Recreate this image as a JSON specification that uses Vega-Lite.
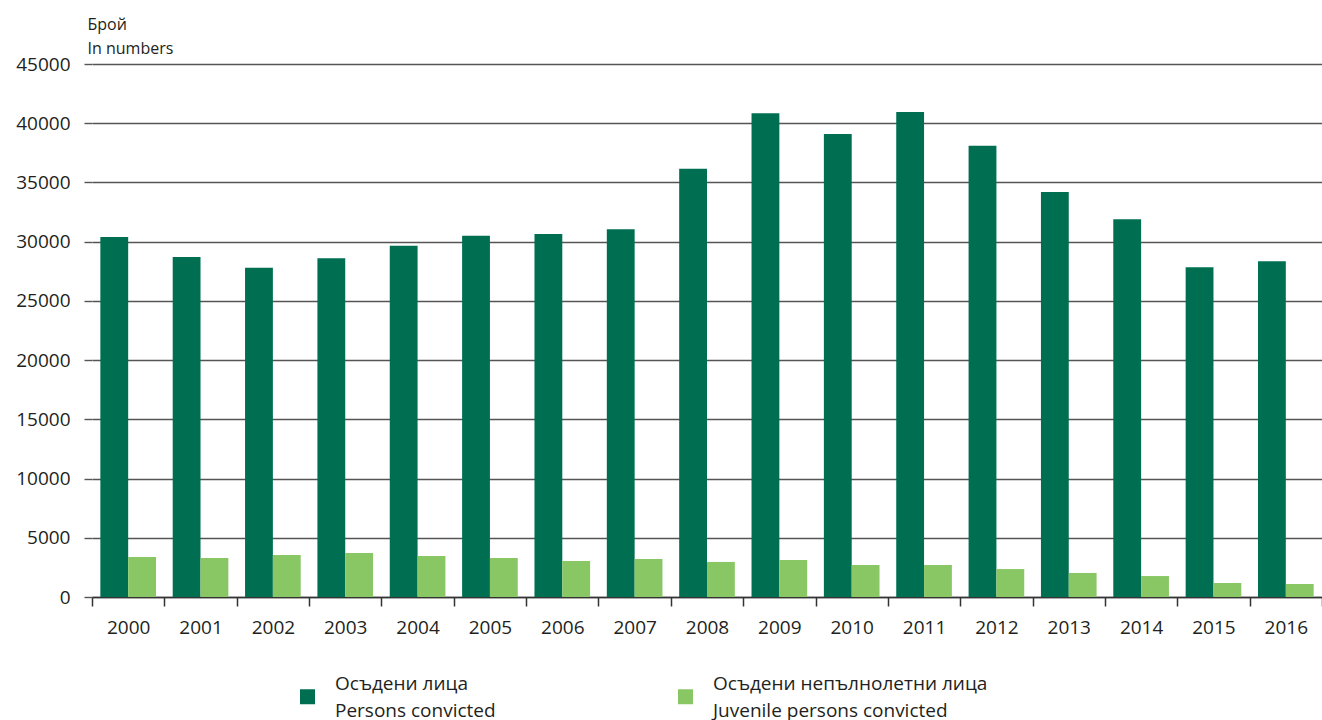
{
  "$schema": "https://vega.github.io/schema/vega-lite/v6.json",
  "width": 1230,
  "height": 533,
  "autosize": {"type": "none"},
  "padding": {"left": 92, "top": 64, "right": 0, "bottom": 123},
  "background": "white",
  "config": {
    "font": "Open Sans",
    "view": {"stroke": null}
  },
  "data": {
    "values": [
      {"year": "2000", "series": "Осъдени лица|Persons convicted", "value": 30400},
      {"year": "2001", "series": "Осъдени лица|Persons convicted", "value": 28700},
      {"year": "2002", "series": "Осъдени лица|Persons convicted", "value": 27800},
      {"year": "2003", "series": "Осъдени лица|Persons convicted", "value": 28600},
      {"year": "2004", "series": "Осъдени лица|Persons convicted", "value": 29650},
      {"year": "2005", "series": "Осъдени лица|Persons convicted", "value": 30500},
      {"year": "2006", "series": "Осъдени лица|Persons convicted", "value": 30650},
      {"year": "2007", "series": "Осъдени лица|Persons convicted", "value": 31050},
      {"year": "2008", "series": "Осъдени лица|Persons convicted", "value": 36150},
      {"year": "2009", "series": "Осъдени лица|Persons convicted", "value": 40850},
      {"year": "2010", "series": "Осъдени лица|Persons convicted", "value": 39100},
      {"year": "2011", "series": "Осъдени лица|Persons convicted", "value": 40950},
      {"year": "2012", "series": "Осъдени лица|Persons convicted", "value": 38100},
      {"year": "2013", "series": "Осъдени лица|Persons convicted", "value": 34200},
      {"year": "2014", "series": "Осъдени лица|Persons convicted", "value": 31900},
      {"year": "2015", "series": "Осъдени лица|Persons convicted", "value": 27850},
      {"year": "2016", "series": "Осъдени лица|Persons convicted", "value": 28350},
      {"year": "2000", "series": "Осъдени непълнолетни лица|Juvenile persons convicted", "value": 3380},
      {"year": "2001", "series": "Осъдени непълнолетни лица|Juvenile persons convicted", "value": 3300},
      {"year": "2002", "series": "Осъдени непълнолетни лица|Juvenile persons convicted", "value": 3550},
      {"year": "2003", "series": "Осъдени непълнолетни лица|Juvenile persons convicted", "value": 3710},
      {"year": "2004", "series": "Осъдени непълнолетни лица|Juvenile persons convicted", "value": 3460},
      {"year": "2005", "series": "Осъдени непълнолетни лица|Juvenile persons convicted", "value": 3290},
      {"year": "2006", "series": "Осъдени непълнолетни лица|Juvenile persons convicted", "value": 3040},
      {"year": "2007", "series": "Осъдени непълнолетни лица|Juvenile persons convicted", "value": 3200},
      {"year": "2008", "series": "Осъдени непълнолетни лица|Juvenile persons convicted", "value": 2960},
      {"year": "2009", "series": "Осъдени непълнолетни лица|Juvenile persons convicted", "value": 3120},
      {"year": "2010", "series": "Осъдени непълнолетни лица|Juvenile persons convicted", "value": 2700},
      {"year": "2011", "series": "Осъдени непълнолетни лица|Juvenile persons convicted", "value": 2700},
      {"year": "2012", "series": "Осъдени непълнолетни лица|Juvenile persons convicted", "value": 2360},
      {"year": "2013", "series": "Осъдени непълнолетни лица|Juvenile persons convicted", "value": 2030},
      {"year": "2014", "series": "Осъдени непълнолетни лица|Juvenile persons convicted", "value": 1770},
      {"year": "2015", "series": "Осъдени непълнолетни лица|Juvenile persons convicted", "value": 1180},
      {"year": "2016", "series": "Осъдени непълнолетни лица|Juvenile persons convicted", "value": 1100}
    ]
  },
  "mark": {"type": "bar"},
  "encoding": {
    "x": {
      "field": "year",
      "type": "nominal",
      "scale": {"paddingInner": 0, "paddingOuter": 0},
      "axis": {
        "title": null,
        "labelAngle": 0,
        "labelFontSize": 19,
        "labelColor": "#231f20",
        "labelPadding": 12,
        "tickBand": "extent",
        "tickSize": 9,
        "tickColor": "#333333",
        "tickWidth": 1.5,
        "domainColor": "#333333",
        "domainWidth": 1.5,
        "grid": false
      }
    },
    "xOffset": {
      "field": "series",
      "type": "nominal",
      "scale": {"paddingOuter": 0.3, "paddingInner": 0}
    },
    "y": {
      "field": "value",
      "type": "quantitative",
      "scale": {"domain": [0, 45000], "nice": false},
      "axis": {
        "values": [0, 5000, 10000, 15000, 20000, 25000, 30000, 35000, 40000, 45000],
        "format": "d",
        "domain": false,
        "grid": true,
        "gridColor": "#555555",
        "gridWidth": 1.4,
        "tickColor": "#555555",
        "tickWidth": 1.4,
        "tickSize": 8,
        "labelFontSize": 19,
        "labelColor": "#231f20",
        "labelPadding": 14,
        "title": ["Брой", "In numbers"],
        "titleAngle": 0,
        "titleAlign": "left",
        "titleBaseline": "alphabetic",
        "titleX": -5,
        "titleY": -35,
        "titleFontSize": 16,
        "titleFontWeight": "normal",
        "titleColor": "#231f20",
        "titleLineHeight": 24
      }
    },
    "color": {
      "field": "series",
      "type": "nominal",
      "scale": {
        "domain": ["Осъдени лица|Persons convicted", "Осъдени непълнолетни лица|Juvenile persons convicted"],
        "range": ["#006f51", "#89c765"]
      },
      "legend": {
        "title": null,
        "orient": "none",
        "legendX": 206,
        "legendY": 623,
        "direction": "horizontal",
        "columns": 2,
        "columnPadding": 180,
        "symbolType": "square",
        "symbolSize": 225,
        "symbolStrokeWidth": 0,
        "labelOffset": 18,
        "labelFontSize": 19,
        "labelColor": "#231f20",
        "labelLimit": 500,
        "labelExpr": "split(datum.label, '|')",
        "encode": {
          "labels": {"update": {"lineHeight": {"value": 27}, "dy": {"value": -13}}}
        }
      }
    }
  }
}
